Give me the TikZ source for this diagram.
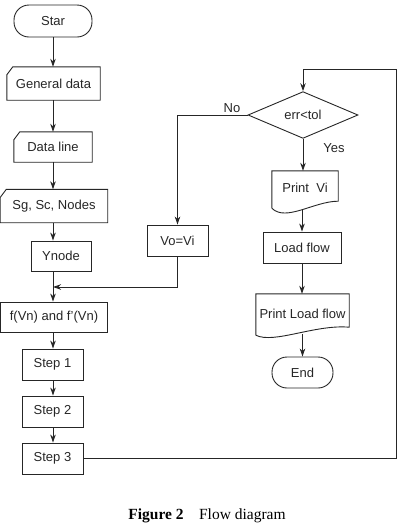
\documentclass[tikz,border=0pt]{standalone}
\usepackage{fontspec}
\setmainfont{Liberation Sans}
\newfontfamily\capfont{Liberation Serif}
\usetikzlibrary{shapes.geometric,arrows.meta,calc}
\begin{document}
\begin{tikzpicture}[x=1pt,y=-1pt,
  every node/.style={font=\fontsize{13}{15}\selectfont, text=black!85},
  base/.style={inner sep=0pt, line width=0.9pt, draw=black!85},
  proc/.style={base, draw, rectangle},
  term/.style={base, draw, rectangle, rounded corners=15pt},
  invis/.style={inner sep=0pt},
  flow/.style={line width=0.9pt, draw=black!85},
  arr/.style={flow, -{Stealth[length=8pt,width=5.5pt]}},
  lbl/.style={inner sep=0pt}]
\useasboundingbox (0,0) rectangle (401,523);
% left column
\node[term, minimum width=78pt, minimum height=32pt] (start) at (53,21) {Star};
\node[invis, minimum width=93pt, minimum height=33pt] (gd) at (53.5,83.5) {General data};
\node[invis, minimum width=78pt, minimum height=30pt] (dl) at (53,147) {Data line};
\node[invis, minimum width=107pt, minimum height=33pt] (sg) at (54,206) {Sg, Sc, Nodes};
\node[proc, minimum width=60pt, minimum height=30pt] (yn) at (61,256) {Ynode};
\node[proc, minimum width=107pt, minimum height=30pt] (fv) at (54,317) {f(Vn) and f’(Vn)};
\node[proc, minimum width=61pt, minimum height=31pt] (s1) at (52.5,364.5) {Step 1};
\node[proc, minimum width=61pt, minimum height=31pt] (s2) at (52.5,411.5) {Step 2};
\node[proc, minimum width=61pt, minimum height=31pt] (s3) at (52.5,458.5) {Step 3};
% card shapes
\foreach \n in {gd,dl,sg}{
  \draw[flow] ($(\n.north west)+(0,8)$) -- ($(\n.north west)+(6,0)$) -- (\n.north east) -- (\n.south east) -- (\n.south west) -- cycle;
}
% middle
\node[proc, minimum width=61pt, minimum height=31pt] (vo) at (177.5,240.5) {Vo=Vi};
\coordinate (merge) at (53,287);
% right column
\node[base, draw, diamond, minimum width=110pt, minimum height=46pt] (dia) at (303,115) {err<tol};
\node[invis, minimum width=66pt, minimum height=34pt] (pv) at (305,188) {Print\ \ Vi};
\node[proc, minimum width=78pt, minimum height=31pt] (lf) at (302,247.5) {Load flow};
\node[invis, minimum width=93pt, minimum height=40pt] (plf) at (302.5,314) {Print Load flow};
\node[term, minimum width=61pt, minimum height=31pt] (end) at (302.5,372.5) {End};
% document shapes
\draw[flow] ($(pv.south west)+(0,3)$) -- (pv.north west) -- (pv.north east) -- ($(pv.south east)+(0,-4)$)
  .. controls ($(pv.south east)+(-24,-4)$) and ($(pv.south west)+(14,17)$) .. ($(pv.south west)+(0,3)$);
\draw[flow] ($(plf.south west)+(0,1)$) -- (plf.north west) -- (plf.north east) -- ($(plf.south east)+(0,-7)$)
  .. controls ($(plf.south east)+(-34,-10)$) and ($(plf.south west)+(18,10)$) .. ($(plf.south west)+(0,1)$);
\coordinate (loop) at (396,69);
% labels
\node[lbl] (no) at (232,108) {No};
\node[lbl] (yes) at (334,148) {Yes};
% connectors
\draw[arr] (start.south) -- (gd.north -| start.south);
\draw[arr] (gd.south -| start.south) -- (dl.north -| start.south);
\draw[arr] (dl.south -| start.south) -- (sg.north -| start.south);
\draw[arr] (sg.south -| start.south) -- (yn.north -| start.south);
\draw[arr] (yn.south -| merge) -- (fv.north -| merge);
\draw[arr] (fv.south -| merge) -- (s1.north -| merge);
\draw[arr] (s1.south -| merge) -- (s2.north -| merge);
\draw[arr] (s2.south -| merge) -- (s3.north -| merge);
\draw[arr] (s3.east) -- (s3.east -| loop) -- (loop) -- (loop -| dia.north) -- (dia.north);
\draw[arr] (dia.west) -- (dia.west -| vo.north) -- (vo.north);
\draw[arr] (vo.south) -- (vo.south |- merge) -- (merge);
\draw[arr] (dia.south) -- (pv.north -| dia.south);
\draw[arr] ($(pv.south -| lf.north)+(0,5)$) -- (lf.north);
\draw[arr] (lf.south) -- (plf.north -| lf.south);
\draw[arr] (plf.south -| end.north) -- (end.north);
% caption
\node[anchor=base, inner sep=0pt, text=black, font=\capfont\fontsize{15.5}{17}\selectfont] (cap) at (207,519.3) {\textbf{Figure 2}\quad Flow diagram};
\end{tikzpicture}
\end{document}
